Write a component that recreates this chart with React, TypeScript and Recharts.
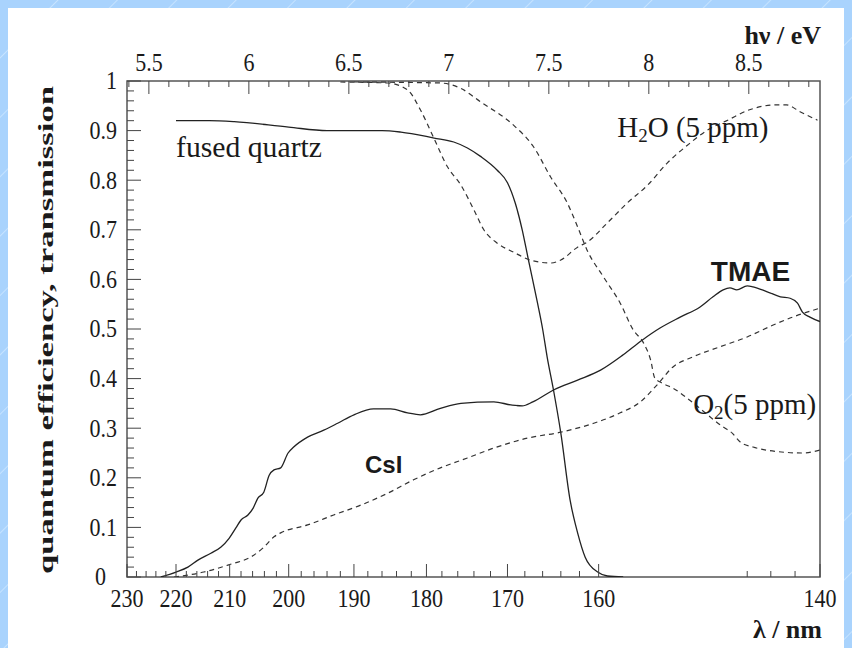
import React from 'react';
import { LineChart, Line, XAxis, YAxis, ReferenceArea, ReferenceDot } from 'recharts';

// photon energy (eV) = HC / wavelength (nm); the plot is linear in energy
const HC = 1239.84;
const NM_RANGE = [230, 140];

const NM_LABELS = [230, 220, 210, 200, 190, 180, 170, 160, 140];
const NM_MINOR = [
  230, 228, 226, 224, 222, 220, 218, 216, 214, 212, 210, 208, 206, 204, 202, 200, 198, 196, 194,
  192, 190, 188, 186, 184, 182, 180, 178, 176, 174, 172, 170, 168, 166, 164, 162, 160, 146, 144,
  142, 140,
];
const EV_LABELS = [5.5, 6, 6.5, 7, 7.5, 8, 8.5];
const Y_LABELS = [0, 0.1, 0.2, 0.3, 0.4, 0.5, 0.6, 0.7, 0.8, 0.9, 1];

// [wavelength nm, value]
const QUARTZ: [number, number][] = [
  [220, 0.92], [213.7, 0.92], [209.2, 0.918], [200, 0.907], [194, 0.9], [186, 0.9], [183.4, 0.897],
  [179, 0.885], [176.5, 0.877], [174.8, 0.865], [173.2, 0.848], [171.2, 0.82], [170, 0.795],
  [169.1, 0.754], [168.3, 0.7], [167.6, 0.64], [166.6, 0.555], [166, 0.5], [165.5, 0.444],
  [164.8, 0.377], [164, 0.29], [163, 0.155], [162.2, 0.089], [161.4, 0.04], [160.1, 0.01],
  [159.1, 0.002], [157.5, 0],
];

const CSI: [number, number][] = [
  [223, 0], [220, 0.01], [217.7, 0.02], [215.8, 0.034], [213.4, 0.048], [211.6, 0.06], [210.1, 0.078],
  [208.9, 0.099], [208, 0.115], [206.8, 0.125], [205.9, 0.139], [205.1, 0.159], [204.1, 0.171],
  [203.2, 0.205], [202.4, 0.216], [201.3, 0.22], [200.1, 0.25], [199.2, 0.262], [197, 0.282],
  [194.5, 0.296], [192.4, 0.31], [190, 0.327], [187.2, 0.339], [184.8, 0.339], [182.5, 0.331],
  [180.8, 0.327], [178.2, 0.34], [175.6, 0.35], [171.6, 0.353], [169.6, 0.347], [168.3, 0.345],
  [167.1, 0.353], [164.8, 0.377], [162.2, 0.397], [159.8, 0.417], [157.5, 0.448], [155.6, 0.478],
  [153.9, 0.502], [152, 0.524], [150.2, 0.544], [149, 0.565], [148.1, 0.579], [147.5, 0.583],
  [146.9, 0.579], [146, 0.587], [145.5, 0.585], [144.3, 0.575], [143.2, 0.565], [142.4, 0.562],
  [141.8, 0.552], [141.4, 0.534], [140.8, 0.524], [140, 0.515],
];

const TMAE: [number, number][] = [
  [220.4, 0], [214.7, 0.01], [210.3, 0.024], [205.8, 0.044], [204.1, 0.06], [202.4, 0.081],
  [201.3, 0.089], [197, 0.105], [193, 0.125], [189, 0.145], [185.2, 0.169], [181.7, 0.196],
  [178.2, 0.22], [174.8, 0.24], [171.6, 0.26], [167.7, 0.28], [164, 0.292], [160.5, 0.31],
  [157.8, 0.331], [155.8, 0.353], [154.2, 0.387], [152.7, 0.423], [150.8, 0.444], [148.4, 0.464],
  [146, 0.484], [143.8, 0.508], [142.2, 0.524], [140, 0.542],
];

const O2: [number, number][] = [
  [190, 0.998], [178.2, 0.996], [175.6, 0.985], [173.2, 0.958], [169.3, 0.911], [167, 0.867],
  [165.1, 0.806], [163.3, 0.754], [162.2, 0.706], [161.2, 0.659], [159.5, 0.605], [157.8, 0.552],
  [156.5, 0.498], [155.5, 0.472], [154.8, 0.437], [154.4, 0.401], [153.7, 0.391], [152.7, 0.381],
  [150.8, 0.351], [149, 0.318], [148.2, 0.304], [147.3, 0.29], [146.6, 0.272], [145.5, 0.262],
  [143.5, 0.253], [141.4, 0.25], [140, 0.256],
];

const H2O: [number, number][] = [
  [192, 0.998], [185.2, 0.996], [182.5, 0.982], [180.8, 0.942], [179.1, 0.887], [177.3, 0.827],
  [175.6, 0.79], [174, 0.74], [172.8, 0.7], [171.2, 0.673], [169.3, 0.655], [167.4, 0.639],
  [165.1, 0.633], [164, 0.639], [162.2, 0.665], [161.2, 0.675], [159.1, 0.714], [157.1, 0.754],
  [155.1, 0.79], [153.2, 0.835], [151.3, 0.871], [149.5, 0.901], [147.7, 0.921], [145.8, 0.942],
  [143.5, 0.952], [142.7, 0.952], [141.6, 0.938], [140.2, 0.921],
];

const SERIF = '"Liberation Serif", "Times New Roman", serif';
const SANS = '"Liberation Sans", Arial, sans-serif';
const INK = '#1a1a1a';

const toPoints = (rows: [number, number][]) => rows.map(([nm, v]) => ({ e: HC / nm, v }));

const E_DOMAIN = [HC / NM_RANGE[0], HC / NM_RANGE[1]];
const NM_TICKS = NM_MINOR.map((nm) => HC / nm);
const EV_TICKS: number[] = [];
for (let t = 54; t <= 88; t++) EV_TICKS.push(t / 10);
const Y_TICKS: number[] = [];
for (let t = 0; t <= 50; t++) Y_TICKS.push(t / 50);

// tick labels in the original are narrow and tall
const TickText = ({ x, y, anchor, children }: any) => (
  <text transform={`translate(${x} ${y}) scale(0.88 1)`} textAnchor={anchor} dominantBaseline="central"
    fontFamily={SERIF} fontSize={25} fill={INK}>
    {children}
  </text>
);

const NmTick = (props: any) => {
  const { x, y, payload } = props;
  const nm = Math.round(HC / payload.value);
  const major = NM_LABELS.includes(nm);
  return (
    <g>
      <line x1={x} y1={y} x2={x} y2={y - (major ? 13 : 6)} stroke="#444" strokeWidth={1} />
      {major && <TickText x={x} y={y + 22} anchor="middle">{nm}</TickText>}
    </g>
  );
};

const EvTick = (props: any) => {
  const { x, y, payload } = props;
  const v = Math.round(payload.value * 10) / 10;
  const major = EV_LABELS.includes(v);
  return (
    <g>
      <line x1={x} y1={y} x2={x} y2={y + (major ? 13 : 6)} stroke="#444" strokeWidth={1} />
      {major && <TickText x={x} y={y - 18} anchor="middle">{v}</TickText>}
    </g>
  );
};

const YTick = (props: any) => {
  const { x, y, payload } = props;
  const v = Math.round(payload.value * 50) / 50;
  const major = Y_LABELS.some((l) => Math.abs(l - v) < 1e-6);
  return (
    <g>
      <line x1={x} y1={y} x2={x + (major ? 14 : 7)} y2={y} stroke="#444" strokeWidth={1} />
      {major && <TickText x={v === 0 ? x - 21 : x - 10} y={y} anchor="end">{v}</TickText>}
    </g>
  );
};

const PlotText = ({ cx, cy, children, font = SERIF, size = 29, weight = 400, len }: any) => (
  <text x={cx} y={cy} dominantBaseline="central" fontFamily={font} fontSize={size} fontWeight={weight} fill={INK}
    textLength={len} lengthAdjust={len ? 'spacingAndGlyphs' : undefined}>
    {children}
  </text>
);

export default function App() {
  return (
    <>
      <div
        style={{
          position: 'fixed',
          inset: 0,
          zIndex: -1,
          background:
            'repeating-linear-gradient(135deg, #a9d3fd 0px, #a9d3fd 40px, #c6e3ff 41px, #a9d3fd 42px)',
        }}
      />
      <div style={{ position: 'relative', width: 844, height: 640, background: '#fff' }}>
        <LineChart width={844} height={640} margin={{ top: 0, right: 32, left: 0, bottom: 0 }}>
          <XAxis
            xAxisId="nm"
            type="number"
            dataKey="e"
            domain={E_DOMAIN}
            allowDataOverflow
            ticks={NM_TICKS}
            interval={0}
            height={71}
            tickSize={0}
            tickMargin={0}
            axisLine={false}
            tickLine={false}
            tick={<NmTick />}
            label={(p: any) => {
              const vb = p.viewBox;
              return (
                <text x={vb.x + vb.width + 2} y={vb.y + 52} textAnchor="end" dominantBaseline="central"
                  fontFamily={SERIF} fontWeight={700} fontSize={26} fill={INK}>
                  λ / nm
                </text>
              );
            }}
          />
          <XAxis
            xAxisId="ev"
            orientation="top"
            type="number"
            dataKey="e"
            domain={E_DOMAIN}
            allowDataOverflow
            ticks={EV_TICKS}
            interval={0}
            height={73}
            tickSize={0}
            tickMargin={0}
            axisLine={false}
            tickLine={false}
            tick={<EvTick />}
            label={(p: any) => {
              const vb = p.viewBox;
              return (
                <text x={vb.x + vb.width + 1} y={vb.y + 27} textAnchor="end" dominantBaseline="central"
                  fontFamily={SERIF} fontWeight={700} fontSize={26} fill={INK}>
                  hν / eV
                </text>
              );
            }}
          />
          <YAxis
            type="number"
            domain={[0, 1]}
            allowDataOverflow
            ticks={Y_TICKS}
            interval={0}
            width={119}
            tickSize={0}
            tickMargin={0}
            axisLine={false}
            tickLine={false}
            tick={<YTick />}
            label={(p: any) => {
              const vb = p.viewBox;
              const cx = vb.x + 37;
              const cy = 322;
              return (
                <text x={cx} y={cy} transform={`rotate(-90 ${cx} ${cy})`} textAnchor="middle" dominantBaseline="central"
                  fontFamily={SERIF} fontWeight={700} fontSize={22} fill={INK} textLength={488} lengthAdjust="spacingAndGlyphs">
                  quantum efficiency, transmission
                </text>
              );
            }}
          />
          <ReferenceArea xAxisId="nm" x1={E_DOMAIN[0]} x2={E_DOMAIN[1]} y1={0} y2={1} fill="none" stroke="#555" strokeWidth={1.5} />

          <Line xAxisId="nm" data={toPoints(QUARTZ)} dataKey="v" type="monotone" dot={false} stroke="#222" strokeWidth={1.3} isAnimationActive={false} />
          <Line xAxisId="nm" data={toPoints(CSI)} dataKey="v" type="monotone" dot={false} stroke="#222" strokeWidth={1.3} isAnimationActive={false} />
          <Line xAxisId="nm" data={toPoints(TMAE)} dataKey="v" type="monotone" dot={false} stroke="#333" strokeWidth={1.2} strokeDasharray="5 4" isAnimationActive={false} />
          <Line xAxisId="nm" data={toPoints(O2)} dataKey="v" type="monotone" dot={false} stroke="#333" strokeWidth={1.2} strokeDasharray="5 4" isAnimationActive={false} />
          <Line xAxisId="nm" data={toPoints(H2O)} dataKey="v" type="monotone" dot={false} stroke="#333" strokeWidth={1.2} strokeDasharray="5 4" isAnimationActive={false} />

          <ReferenceDot xAxisId="nm" x={HC / 220} y={0.867} r={0}
            shape={(p: any) => <PlotText cx={p.cx} cy={p.cy} len={146}>fused quartz</PlotText>} />
          <ReferenceDot xAxisId="nm" x={HC / 158.1} y={0.907} r={0}
            shape={(p: any) => (
              <PlotText cx={p.cx} cy={p.cy}>
                H<tspan fontSize={19} dy={8}>2</tspan>
                <tspan dy={-8}>O (5 ppm)</tspan>
              </PlotText>
            )} />
          <ReferenceDot xAxisId="nm" x={HC / 150.8} y={0.349} r={0}
            shape={(p: any) => (
              <PlotText cx={p.cx} cy={p.cy}>
                O<tspan fontSize={19} dy={8}>2</tspan>
                <tspan dy={-8}>(5 ppm)</tspan>
              </PlotText>
            )} />
          <ReferenceDot xAxisId="nm" x={HC / 149.2} y={0.615} r={0}
            shape={(p: any) => <PlotText cx={p.cx} cy={p.cy} font={SANS} weight={700} size={28}>TMAE</PlotText>} />
          <ReferenceDot xAxisId="nm" x={HC / 188.4} y={0.226} r={0}
            shape={(p: any) => <PlotText cx={p.cx} cy={p.cy} font={SANS} weight={700} size={24}>CsI</PlotText>} />
        </LineChart>
      </div>
    </>
  );
}
